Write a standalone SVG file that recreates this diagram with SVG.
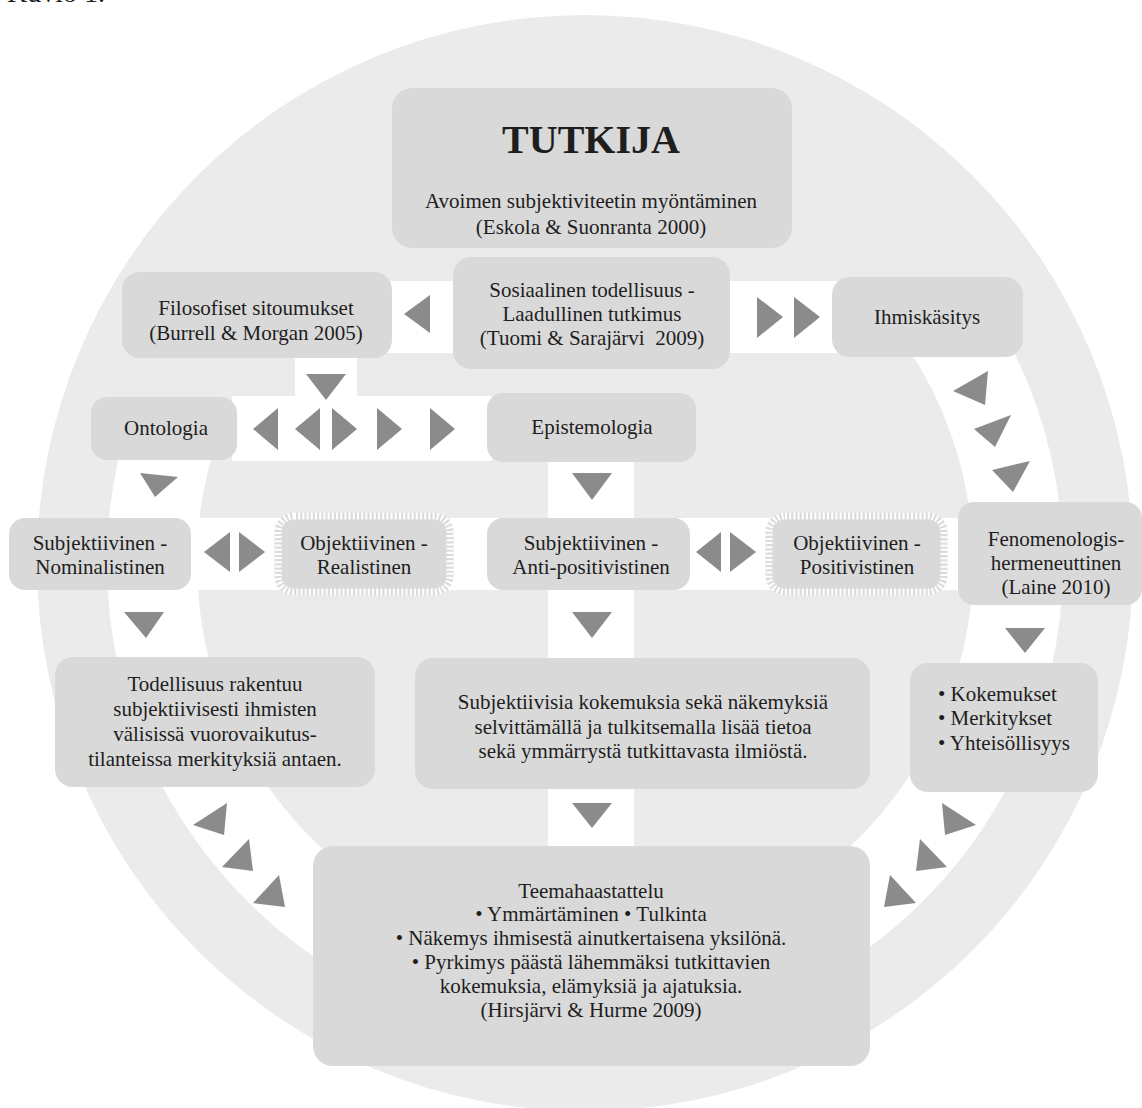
<svg xmlns="http://www.w3.org/2000/svg" width="1142" height="1108" viewBox="0 0 1142 1108">
<style>
.box{fill:#d9d9d9}
.t{font-family:"Liberation Serif","Times New Roman",serif;font-size:21px;fill:#1e1e1e;text-anchor:middle}
.tl{text-anchor:start}
.tri{fill:#8b8b8b}
.strip{fill:#ffffff}
.ring{fill:none;stroke:#ffffff;stroke-width:90}
.dotbase{fill:#d9d9d9;stroke:#dcdcdc;stroke-width:7}
.dotedge{fill:none;stroke:#ffffff;stroke-width:7;stroke-dasharray:2 2.2}
</style>
<rect width="1142" height="1108" fill="#ffffff"/>
<text class="t tl" x="7" y="2" style="font-size:28px">Kuvio 1.</text>
<g id="background">
<circle cx="585" cy="563" r="548" fill="#ebebeb"/>
</g>
<g id="connectors">
<path class="ring" d="M176.3,420 A433,433 0 0 0 585,996"/>
<path class="ring" d="M943.4,320 A433,433 0 0 1 585,996"/>
<rect class="strip" x="385" y="281" width="452" height="72"/>
<rect class="strip" x="295" y="352" width="62" height="48"/>
<rect class="strip" x="232" y="396" width="260" height="65"/>
<rect class="strip" x="548" y="455" width="86" height="395"/>
<rect class="strip" x="185" y="518" width="775" height="72"/>
</g>
<g id="n-tutkija">
<rect class="box" x="392" y="88" width="400" height="160" rx="20"/>
<text class="t" x="591" y="153" style="font-size:40px;font-weight:bold">TUTKIJA</text>
<text class="t" x="591" y="208">Avoimen subjektiviteetin myöntäminen</text>
<text class="t" x="591" y="234">(Eskola &amp; Suonranta 2000)</text>
</g>
<g id="n-filosofiset">
<rect class="box" x="122" y="272" width="270" height="86" rx="18"/>
<text class="t" x="256" y="315">Filosofiset sitoumukset</text>
<text class="t" x="256" y="340">(Burrell &amp; Morgan 2005)</text>
</g>
<g id="n-sosiaalinen">
<rect class="box" x="453" y="257" width="277" height="112" rx="18"/>
<text class="t" x="592" y="297">Sosiaalinen todellisuus -</text>
<text class="t" x="592" y="321">Laadullinen tutkimus</text>
<text class="t" x="592" y="345">(Tuomi &amp; Sarajärvi&#160; 2009)</text>
</g>
<g id="n-ihmiskasitys">
<rect class="box" x="832" y="277" width="191" height="80" rx="18"/>
<text class="t" x="927" y="324">Ihmiskäsitys</text>
</g>
<g id="n-ontologia">
<rect class="box" x="91" y="397" width="146" height="63" rx="16"/>
<text class="t" x="166" y="435">Ontologia</text>
</g>
<g id="n-epistemologia">
<rect class="box" x="487" y="393" width="209" height="69" rx="16"/>
<text class="t" x="592" y="434">Epistemologia</text>
</g>
<g id="n-nominalistinen">
<rect class="box" x="9" y="518" width="182" height="72" rx="16"/>
<text class="t" x="100" y="550">Subjektiivinen -</text>
<text class="t" x="100" y="574">Nominalistinen</text>
</g>
<g id="n-realistinen">
<rect class="dotbase" x="278" y="516" width="172" height="76" rx="16"/>
<rect class="dotedge" x="278" y="516" width="172" height="76" rx="16"/>
<text class="t" x="364" y="550">Objektiivinen -</text>
<text class="t" x="364" y="574">Realistinen</text>
</g>
<g id="n-antipositivistinen">
<rect class="box" x="487" y="518" width="203" height="72" rx="16"/>
<text class="t" x="591" y="550">Subjektiivinen -</text>
<text class="t" x="591" y="574">Anti-positivistinen</text>
</g>
<g id="n-positivistinen">
<rect class="dotbase" x="769" y="516" width="175" height="76" rx="16"/>
<rect class="dotedge" x="769" y="516" width="175" height="76" rx="16"/>
<text class="t" x="857" y="550">Objektiivinen -</text>
<text class="t" x="857" y="574">Positivistinen</text>
</g>
<g id="n-fenomenologis">
<rect class="box" x="958" y="502" width="184" height="103" rx="16"/>
<text class="t" x="1056" y="546">Fenomenologis-</text>
<text class="t" x="1056" y="570">hermeneuttinen</text>
<text class="t" x="1056" y="594">(Laine 2010)</text>
</g>
<g id="n-todellisuus">
<rect class="box" x="55" y="657" width="320" height="130" rx="18"/>
<text class="t" x="215" y="691">Todellisuus rakentuu</text>
<text class="t" x="215" y="716">subjektiivisesti ihmisten</text>
<text class="t" x="215" y="741">välisissä vuorovaikutus-</text>
<text class="t" x="215" y="766">tilanteissa merkityksiä antaen.</text>
</g>
<g id="n-subjektiivisia">
<rect class="box" x="415" y="658" width="455" height="131" rx="18"/>
<text class="t" x="643" y="709">Subjektiivisia kokemuksia sekä näkemyksiä</text>
<text class="t" x="643" y="734">selvittämällä ja tulkitsemalla lisää tietoa</text>
<text class="t" x="643" y="758">sekä ymmärrystä tutkittavasta ilmiöstä.</text>
</g>
<g id="n-kokemukset">
<rect class="box" x="910" y="663" width="188" height="129" rx="18"/>
<text class="t tl" x="938" y="701">• Kokemukset</text>
<text class="t tl" x="938" y="725">• Merkitykset</text>
<text class="t tl" x="938" y="750">• Yhteisöllisyys</text>
</g>
<g id="n-teemahaastattelu">
<rect class="box" x="313" y="846" width="557" height="220" rx="20"/>
<text class="t" x="591" y="898">Teemahaastattelu</text>
<text class="t" x="591" y="921">• Ymmärtäminen • Tulkinta</text>
<text class="t" x="591" y="945">• Näkemys ihmisestä ainutkertaisena yksilönä.</text>
<text class="t" x="591" y="969">• Pyrkimys päästä lähemmäksi tutkittavien</text>
<text class="t" x="591" y="993">kokemuksia, elämyksiä ja ajatuksia.</text>
<text class="t" x="591" y="1017">(Hirsjärvi &amp; Hurme 2009)</text>
</g>
<g id="arrows">
<polygon class="tri" points="430,295 404,314 430,333"/>
<polygon class="tri" points="757,297 783,317 757,338"/>
<polygon class="tri" points="794,297 820,317 794,338"/>
<polygon class="tri" points="306,374 346,374 326,400"/>
<polygon class="tri" points="278,408 253,429 278,450"/>
<polygon class="tri" points="320,408 295,429 320,450"/>
<polygon class="tri" points="332,408 357,429 332,450"/>
<polygon class="tri" points="377,408 402,429 377,450"/>
<polygon class="tri" points="430,408 455,429 430,450"/>
<polygon class="tri" points="140,473 178,477 155,497"/>
<polygon class="tri" points="572,473 612,473 592,500"/>
<polygon class="tri" points="230,532 204,552 230,572"/>
<polygon class="tri" points="239,532 265,552 239,572"/>
<polygon class="tri" points="721,532 696,552 721,572"/>
<polygon class="tri" points="730,532 756,552 730,572"/>
<polygon class="tri" points="124,612 164,612 146,638"/>
<polygon class="tri" points="572,612 612,612 592,638"/>
<polygon class="tri" points="1005,628 1045,628 1025,653"/>
<polygon class="tri" points="572,803 612,803 592,828"/>
<polygon class="tri" points="953,391 988,371 985,405"/>
<polygon class="tri" points="974,429 1011,415 995,447"/>
<polygon class="tri" points="992,470 1030,461 1013,492"/>
<polygon class="tri" points="227,803 193,825 224,835"/>
<polygon class="tri" points="249,839 222,867 253,871"/>
<polygon class="tri" points="279,875 253,903 285,907"/>
<polygon class="tri" points="942,803 976,825 945,835"/>
<polygon class="tri" points="920,839 947,867 916,871"/>
<polygon class="tri" points="890,875 916,903 884,907"/>
</g>
</svg>
